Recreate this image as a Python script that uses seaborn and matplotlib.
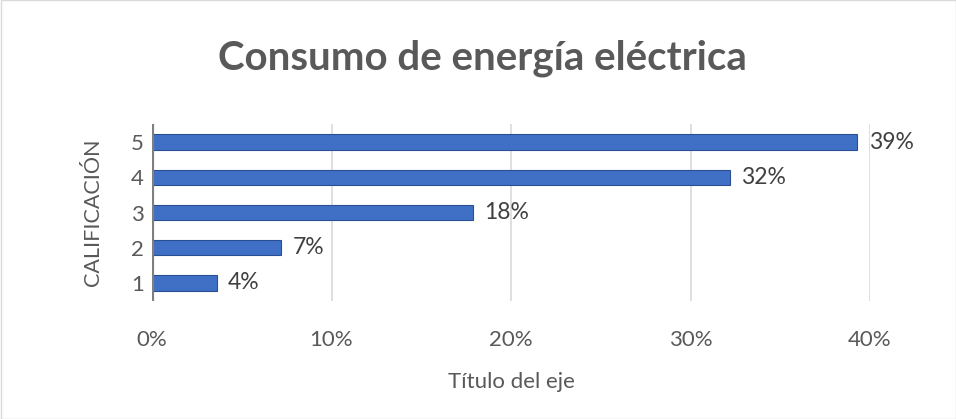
import matplotlib
matplotlib.use("Agg")
import matplotlib.pyplot as plt
import seaborn as sns
import pandas as pd
from matplotlib.patches import Rectangle
from matplotlib.ticker import FuncFormatter

categories = ["5", "4", "3", "2", "1"]
values = [0.393, 0.322, 0.179, 0.072, 0.036]
x_ticks = [0.0, 0.1, 0.2, 0.3, 0.4]

sns.set_theme(style="white")
plt.rcParams['font.family'] = ['Lato', 'DejaVu Sans']

df = pd.DataFrame({"cat": categories, "val": values})

fig = plt.figure(figsize=(9.56, 4.19), dpi=100)
ax = fig.add_axes([152/956, 1-300.6/419, (870-152)/956, (300.6-124.4)/419])

sns.barplot(data=df, x="val", y="cat", order=categories, orient="h",
            color="#4070C6", width=0.43, ax=ax, edgecolor="#2B4F92", linewidth=0.8,
            saturation=1)

ax.set_xlim(0, 0.4)
ax.set_xticks(x_ticks)
ax.xaxis.set_major_formatter(FuncFormatter(lambda v, p: f"{v*100:.0f}%"))
for xt in x_ticks[1:]:
    ax.axvline(xt, color="#D9D9D9", lw=1.2, zorder=0)
# left wall
ax.axvline(0.0, color="#7F7F7F", lw=3, zorder=1)

for i, v in enumerate(values):
    ax.annotate(f"{v*100:.0f}%", xy=(v, i), xytext=(8, 0), textcoords="offset points",
                va="center", ha="left", fontsize=16.5, color="#404040")

for s in ax.spines.values():
    s.set_visible(False)
ax.tick_params(axis="x", length=0, pad=21, labelsize=16, labelcolor="#595959")
ax.tick_params(axis="y", length=0, pad=6, labelsize=16, labelcolor="#595959")
ax.set_xlabel("Título del eje", fontsize=16, color="#595959", labelpad=16)
ax.set_ylabel("CALIFICACIÓN", fontsize=15.5, color="#595959", labelpad=20)

fig.text(0.505, 0.862, "Consumo de energía eléctrica", ha="center", va="center",
         fontsize=29, fontweight="bold", color="#595959")

fig.patches.append(Rectangle((0.5/956, 0.5/419), 1-1/956, 1-1/419, transform=fig.transFigure,
                             fill=False, edgecolor="#D9D9D9", lw=1))

fig.savefig("out.png", dpi=100)
